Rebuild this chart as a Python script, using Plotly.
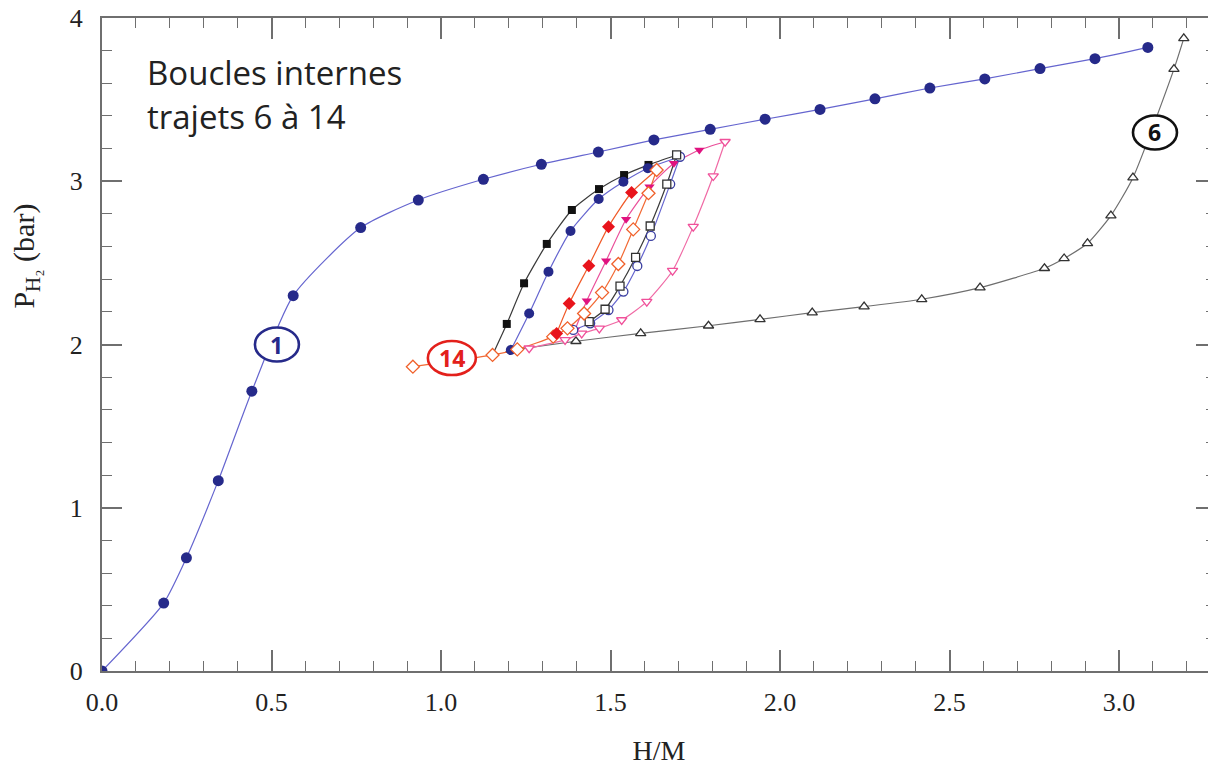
import plotly.graph_objects as go

# ---------------- data ----------------
# Path 1 : absorption (filled navy circles)
p1_x = [0.0, 0.182, 0.249, 0.343, 0.442, 0.564, 0.763, 0.933, 1.125, 1.296, 1.464, 1.628,
        1.794, 1.956, 2.118, 2.280, 2.442, 2.604, 2.767, 2.929, 3.085]
p1_y = [0.0, 0.416, 0.693, 1.166, 1.714, 2.299, 2.716, 2.885, 3.012, 3.104, 3.179, 3.253,
        3.318, 3.380, 3.440, 3.505, 3.571, 3.627, 3.690, 3.751, 3.820]

# Path 6 : desorption (open triangles)
p6_x = [3.191, 3.162, 3.041, 2.976, 2.907, 2.838, 2.780, 2.590, 2.418, 2.248, 2.095, 1.941,
        1.789, 1.589, 1.398, 1.206]
p6_y = [3.875, 3.687, 3.022, 2.790, 2.620, 2.527, 2.467, 2.348, 2.277, 2.232, 2.195, 2.154,
        2.115, 2.068, 2.020, 1.966]

# internal loops (up = absorption branch, dn = desorption branch)
blue_up_x = [1.206, 1.260, 1.317, 1.382, 1.465, 1.538, 1.610]
blue_up_y = [1.966, 2.190, 2.446, 2.695, 2.891, 2.997, 3.080]
blue_dn_x = [1.705, 1.676, 1.619, 1.579, 1.538, 1.494, 1.440, 1.390]
blue_dn_y = [3.150, 2.983, 2.665, 2.481, 2.324, 2.211, 2.130, 2.089]

black_up_x = [1.194, 1.245, 1.312, 1.386, 1.466, 1.540, 1.612]
black_up_y = [2.126, 2.375, 2.616, 2.824, 2.952, 3.038, 3.100]
black_dn_x = [1.695, 1.666, 1.617, 1.574, 1.528, 1.484, 1.437]
black_dn_y = [3.161, 2.983, 2.726, 2.534, 2.358, 2.216, 2.140]

red_up_x = [1.341, 1.378, 1.436, 1.494, 1.562]
red_up_y = [2.068, 2.251, 2.483, 2.722, 2.931]
orange_dn_x = [1.636, 1.612, 1.567, 1.523, 1.475, 1.422, 1.373, 1.331, 1.225, 1.152, 0.917]
orange_dn_y = [3.069, 2.927, 2.705, 2.493, 2.318, 2.190, 2.099, 2.048, 1.970, 1.936, 1.864]

mag_up_x = [1.395, 1.430, 1.487, 1.546, 1.615, 1.687, 1.762]
mag_up_y = [2.089, 2.268, 2.513, 2.767, 2.967, 3.110, 3.191]
pink_dn_x = [1.838, 1.803, 1.744, 1.683, 1.607, 1.533, 1.467, 1.415, 1.366, 1.260]
pink_dn_y = [3.242, 3.032, 2.722, 2.452, 2.263, 2.150, 2.099, 2.068, 2.028, 1.977]

# circled path labels
lab_text = ["1", "14", "6"]
lab_x = [0.516, 1.032, 3.106]
lab_y = [2.000, 1.917, 3.299]
lab_col = ["#262a8a", "#e3201b", "#111111"]

x_ticks = [0.0, 0.5, 1.0, 1.5, 2.0, 2.5, 3.0]
y_ticks = [0, 1, 2, 3, 4]

# ---------------- figure ----------------
NAVY = "#262a8a"
BLUE_LINE = "#6565cf"
fig = go.Figure()


def line(x, y, col, lw=1.2):
    fig.add_trace(go.Scatter(x=x, y=y, mode="lines",
                             line=dict(color=col, width=lw, shape="spline", smoothing=0.6),
                             showlegend=False, hoverinfo="skip"))


def marks(x, y, sym, col, size, hollow=False):
    if hollow:
        m = dict(symbol=sym, size=size, color="white", line=dict(color=col, width=1.3))
    else:
        m = dict(symbol=sym, size=size, color=col, line=dict(width=0))
    fig.add_trace(go.Scatter(x=x, y=y, mode="markers", marker=m,
                             showlegend=False, hoverinfo="skip"))


# path 6 (gray, open triangles)
line(p6_x, p6_y, "#6e6e6e")
marks(p6_x, p6_y, "triangle-up", "#333333", 9, hollow=True)

# loop lines
line([orange_dn_x[9]] + black_up_x + [black_dn_x[0]],
     [orange_dn_y[9]] + black_up_y + [black_dn_y[0]], "#3a3a3a")
line(blue_up_x + [blue_dn_x[0]], blue_up_y + [blue_dn_y[0]], BLUE_LINE)
line(pink_dn_x, pink_dn_y, "#f06aa5")
line(mag_up_x + [pink_dn_x[0]], mag_up_y + [pink_dn_y[0]], "#ea4f9a")
line(blue_dn_x, blue_dn_y, BLUE_LINE)
line(black_dn_x, black_dn_y, "#3a3a3a")
line(orange_dn_x, orange_dn_y, "#f26a35")
line(red_up_x + [orange_dn_x[0]], red_up_y + [orange_dn_y[0]], "#f05a28")

# loop markers
marks(black_up_x, black_up_y, "square", "#111111", 8)
marks(blue_up_x, blue_up_y, "circle", NAVY, 10)
marks(pink_dn_x, pink_dn_y, "triangle-down", "#f0509a", 9, hollow=True)
marks(mag_up_x, mag_up_y, "triangle-down", "#e0127f", 9)
marks(blue_dn_x, blue_dn_y, "circle", "#3a3ea0", 9, hollow=True)
marks(black_dn_x, black_dn_y, "square", "#333333", 8, hollow=True)
marks(orange_dn_x, orange_dn_y, "diamond", "#f0602a", 10, hollow=True)
marks(red_up_x, red_up_y, "diamond", "#e8141c", 10)

# path 1 on top
line(p1_x, p1_y, BLUE_LINE)
marks(p1_x, p1_y, "circle", NAVY, 11)

# circled labels
shapes = []
annotations = []
for t, x, y, c in zip(lab_text, lab_x, lab_y, lab_col):
    half_w = 24 if len(t) > 1 else 22
    shapes.append(dict(type="circle", xref="x", yref="y", xsizemode="pixel", ysizemode="pixel",
                       xanchor=x, yanchor=y, x0=-half_w, x1=half_w, y0=-17, y1=17,
                       line=dict(color=c, width=2.6), fillcolor="white", layer="above"))
    annotations.append(dict(x=x, y=y, xref="x", yref="y", text="<b>%s</b>" % t, showarrow=False,
                            font=dict(family="Open Sans", size=23, color=c)))

# text block
annotations.append(dict(x=0.128, y=3.669, xref="x", yref="y", xanchor="left", yanchor="middle",
                        text="Boucles internes", showarrow=False,
                        font=dict(family="Open Sans", size=33, color="#222222")))
annotations.append(dict(x=0.128, y=3.394, xref="x", yref="y", xanchor="left", yanchor="middle",
                        text="trajets 6 à 14", showarrow=False,
                        font=dict(family="Open Sans", size=33, color="#222222")))
# y-axis title
annotations.append(dict(x=-0.068, y=0.635, xref="paper", yref="paper", xanchor="center",
                        yanchor="middle", textangle=-90,
                        text="P<sub>H₂</sub> (bar)", showarrow=False,
                        font=dict(family="Liberation Serif", size=30, color="#222222")))

axis_common = dict(showline=True, linecolor="#6f6f6f", linewidth=2, mirror="ticks",
                   ticks="inside", tickcolor="#6f6f6f", tickwidth=1.5, showgrid=False,
                   zeroline=False, ticklabeloverflow="allow", automargin=False,
                   tickfont=dict(family="Liberation Serif", size=26, color="#222222"))

fig.update_layout(
    width=1208, height=761,
    margin=dict(l=94, r=0, t=10, b=98),
    paper_bgcolor="white", plot_bgcolor="white",
    shapes=shapes, annotations=annotations,
    xaxis=dict(range=[0, 3.286], tickvals=x_ticks, ticktext=["%.1f" % v for v in x_ticks],
               ticklen=21, ticklabelstandoff=7,
               minor=dict(dtick=0.1, tick0=0, ticklen=10, ticks="inside", tickcolor="#6f6f6f", tickwidth=1.2),
               title=dict(text="H/M", font=dict(family="Liberation Serif", size=28, color="#222222"),
                          standoff=24),
               **axis_common),
    yaxis=dict(range=[0, 4], tickvals=y_ticks, ticktext=[str(v) for v in y_ticks],
               ticklen=20, ticklabelstandoff=12,
               minor=dict(dtick=0.2, tick0=0, ticklen=10, ticks="inside", tickcolor="#6f6f6f", tickwidth=1.2),
               **axis_common),
)

fig.write_html("out.html")
